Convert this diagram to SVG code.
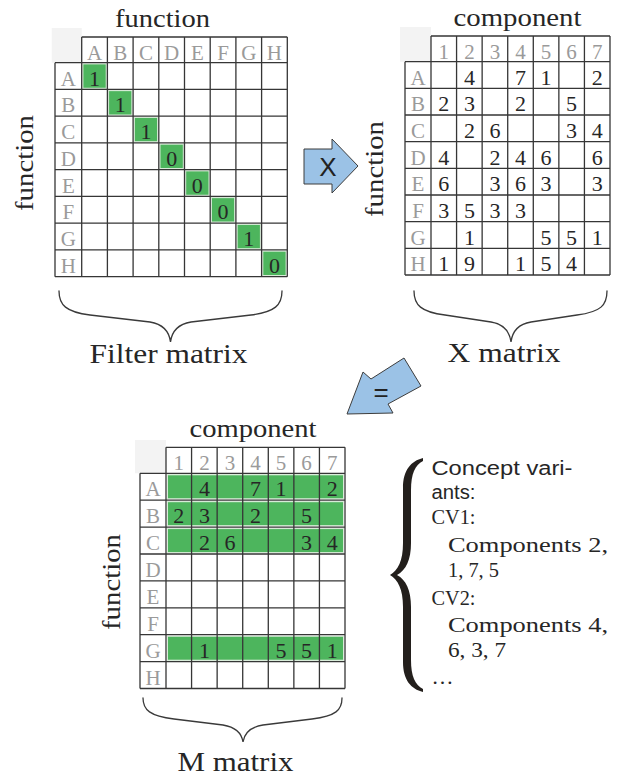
<svg xmlns="http://www.w3.org/2000/svg" width="618" height="777" viewBox="0 0 618 777">
<style>
.bg{fill:#ffffff}
.corner{fill:#f3f3f3}
.g{fill:none;stroke:#363636;stroke-width:1.3}
.grn{fill:#4db55d;stroke:#d9ecd9;stroke-width:1}
.hd{font-family:"Liberation Serif",serif;font-size:21px;fill:#9a9a9a;text-anchor:middle}
.num{font-family:"Liberation Serif",serif;font-size:22px;fill:#262626;text-anchor:middle}
.title{font-family:"Liberation Serif",serif;font-size:26px;fill:#262626;text-anchor:middle}
.lbl{font-family:"Liberation Serif",serif;font-size:27px;fill:#262626;text-anchor:middle}
.brace{fill:none;stroke:#3a3a3a;stroke-width:1.3;stroke-linecap:round}
.arrow{fill:#9bc2e6;stroke:#3d3d3d;stroke-width:1}
.asym{font-family:"Liberation Sans",Arial,sans-serif;font-size:26px;fill:#222;text-anchor:middle}
.sans{font-family:"Liberation Sans",Arial,sans-serif;font-size:20px;fill:#262626}
.ser{font-family:"Liberation Serif",serif;font-size:22px;fill:#262626}
</style>
<rect class="bg" x="0" y="0" width="618" height="777"/>

<g id="filter-matrix">
<text class="title" x="162.5" y="27" textLength="95" lengthAdjust="spacingAndGlyphs">function</text>
<text class="title" transform="translate(33,163) rotate(-90)" textLength="96" lengthAdjust="spacingAndGlyphs">function</text>
<rect class="corner" x="51.7" y="28" width="30" height="34.7"/>
<rect class="grn" x="82.9" y="63.9" width="23.3" height="24.35"/>
<rect class="grn" x="108.6" y="90.65" width="23.3" height="24.35"/>
<rect class="grn" x="134.3" y="117.4" width="23.3" height="24.35"/>
<rect class="grn" x="160" y="144.15" width="23.3" height="24.35"/>
<rect class="grn" x="185.7" y="170.9" width="23.3" height="24.35"/>
<rect class="grn" x="211.4" y="197.65" width="23.3" height="24.35"/>
<rect class="grn" x="237.1" y="224.4" width="23.3" height="24.35"/>
<rect class="grn" x="262.8" y="251.15" width="23.3" height="24.35"/>
<path class="g" d="M81.7 37H287.3M55 62.7H287.3M55 89.45H287.3M55 116.2H287.3M55 142.95H287.3M55 169.7H287.3M55 196.45H287.3M55 223.2H287.3M55 249.95H287.3M55 276.7H287.3M55 62.7V276.7M81.7 37V276.7M107.4 37V276.7M133.1 37V276.7M158.8 37V276.7M184.5 37V276.7M210.2 37V276.7M235.9 37V276.7M261.6 37V276.7M287.3 37V276.7"/>
<g class="hd">
<text x="94.55" y="60">A</text><text x="120.25" y="60">B</text><text x="145.95" y="60">C</text><text x="171.65" y="60">D</text><text x="197.35" y="60">E</text><text x="223.05" y="60">F</text><text x="248.75" y="60">G</text><text x="274.45" y="60">H</text>
<text x="68.35" y="85.7">A</text><text x="68.35" y="112.45">B</text><text x="68.35" y="139.2">C</text><text x="68.35" y="165.95">D</text><text x="68.35" y="192.7">E</text><text x="68.35" y="219.45">F</text><text x="68.35" y="246.2">G</text><text x="68.35" y="272.95">H</text>
</g>
<g class="num">
<text x="94.55" y="85.7">1</text><text x="120.25" y="112.45">1</text><text x="145.95" y="139.2">1</text><text x="171.65" y="165.95">0</text><text x="197.35" y="192.7">0</text><text x="223.05" y="219.45">0</text><text x="248.75" y="246.2">1</text><text x="274.45" y="272.95">0</text>
</g>
<path class="brace" d="M59,291 C59,305 66,312 90,315 L150,322 C162,324 169,330 170.5,342 C172,330 179,324 191,322 L251,315 C275,312 282,305 282,291"/>
<text class="lbl" x="168.5" y="363" textLength="158" lengthAdjust="spacingAndGlyphs">Filter matrix</text>
</g>

<g id="x-matrix">
<text class="title" x="517.5" y="26" textLength="128" lengthAdjust="spacingAndGlyphs">component</text>
<text class="title" transform="translate(383,169) rotate(-90)" textLength="96" lengthAdjust="spacingAndGlyphs">function</text>
<rect class="corner" x="400" y="27" width="31" height="34.7"/>
<path class="g" d="M431 36H610M405 61.7H610M405 88.36H610M405 115.02H610M405 141.68H610M405 168.34H610M405 195H610M405 221.66H610M405 248.32H610M405 274.98H610M405 61.7V274.98M431 36V274.98M456.57 36V274.98M482.14 36V274.98M507.71 36V274.98M533.29 36V274.98M558.86 36V274.98M584.43 36V274.98M610 36V274.98"/>
<g class="hd">
<text x="443.8" y="59">1</text><text x="469.4" y="59">2</text><text x="494.9" y="59">3</text><text x="520.5" y="59">4</text><text x="546.1" y="59">5</text><text x="571.6" y="59">6</text><text x="597.2" y="59">7</text>
<text x="418" y="84.7">A</text><text x="418" y="111.36">B</text><text x="418" y="138.02">C</text><text x="418" y="164.68">D</text><text x="418" y="191.34">E</text><text x="418" y="218">F</text><text x="418" y="244.66">G</text><text x="418" y="271.32">H</text>
</g>
<g class="num">
<text x="469.4" y="84.7">4</text><text x="520.5" y="84.7">7</text><text x="546.1" y="84.7">1</text><text x="597.2" y="84.7">2</text>
<text x="443.8" y="111.36">2</text><text x="469.4" y="111.36">3</text><text x="520.5" y="111.36">2</text><text x="571.6" y="111.36">5</text>
<text x="469.4" y="138.02">2</text><text x="494.9" y="138.02">6</text><text x="571.6" y="138.02">3</text><text x="597.2" y="138.02">4</text>
<text x="443.8" y="164.68">4</text><text x="494.9" y="164.68">2</text><text x="520.5" y="164.68">4</text><text x="546.1" y="164.68">6</text><text x="597.2" y="164.68">6</text>
<text x="443.8" y="191.34">6</text><text x="494.9" y="191.34">3</text><text x="520.5" y="191.34">6</text><text x="546.1" y="191.34">3</text><text x="597.2" y="191.34">3</text>
<text x="443.8" y="218">3</text><text x="469.4" y="218">5</text><text x="494.9" y="218">3</text><text x="520.5" y="218">3</text>
<text x="469.4" y="244.66">1</text><text x="546.1" y="244.66">5</text><text x="571.6" y="244.66">5</text><text x="597.2" y="244.66">1</text>
<text x="443.8" y="271.32">1</text><text x="469.4" y="271.32">9</text><text x="520.5" y="271.32">1</text><text x="546.1" y="271.32">5</text><text x="571.6" y="271.32">4</text>
</g>
<path class="brace" d="M414,291 C414,305 421,312 445,315 L491,322 C503,324 509.5,330 511,342 C512.5,330 519,324 531,322 L577,315 C601,312 607,305 607,291"/>
<text class="lbl" x="504" y="362" textLength="113" lengthAdjust="spacingAndGlyphs">X matrix</text>
</g>

<g id="m-matrix">
<text class="title" x="253" y="437" textLength="127" lengthAdjust="spacingAndGlyphs">component</text>
<text class="title" transform="translate(120,582) rotate(-90)" textLength="96" lengthAdjust="spacingAndGlyphs">function</text>
<rect class="corner" x="135" y="440" width="31" height="33.3"/>
<rect class="grn" x="167.5" y="474.8" width="176" height="24"/>
<rect class="grn" x="167.5" y="501.7" width="176" height="24"/>
<rect class="grn" x="167.5" y="528.6" width="176" height="24"/>
<rect class="grn" x="167.5" y="636.2" width="176" height="24"/>
<path class="g" d="M166 447.3H345M140 473.3H345M140 500.2H345M140 527.1H345M140 554H345M140 580.9H345M140 607.8H345M140 634.7H345M140 661.6H345M140 688.5H345M140 473.3V688.5M166 447.3V688.5M191.57 447.3V688.5M217.14 447.3V688.5M242.71 447.3V688.5M268.29 447.3V688.5M293.86 447.3V688.5M319.43 447.3V688.5M345 447.3V688.5"/>
<g class="hd">
<text x="178.8" y="470.3">1</text><text x="204.4" y="470.3">2</text><text x="229.9" y="470.3">3</text><text x="255.5" y="470.3">4</text><text x="281.1" y="470.3">5</text><text x="306.6" y="470.3">6</text><text x="332.2" y="470.3">7</text>
<text x="153" y="496.3">A</text><text x="153" y="523.2">B</text><text x="153" y="550.1">C</text><text x="153" y="577">D</text><text x="153" y="603.9">E</text><text x="153" y="630.8">F</text><text x="153" y="657.7">G</text><text x="153" y="684.6">H</text>
</g>
<g class="num">
<text x="204.4" y="496.3">4</text><text x="255.5" y="496.3">7</text><text x="281.1" y="496.3">1</text><text x="332.2" y="496.3">2</text>
<text x="178.8" y="523.2">2</text><text x="204.4" y="523.2">3</text><text x="255.5" y="523.2">2</text><text x="306.6" y="523.2">5</text>
<text x="204.4" y="550.1">2</text><text x="229.9" y="550.1">6</text><text x="306.6" y="550.1">3</text><text x="332.2" y="550.1">4</text>
<text x="204.4" y="657.7">1</text><text x="281.1" y="657.7">5</text><text x="306.6" y="657.7">5</text><text x="332.2" y="657.7">1</text>
</g>
<path class="brace" d="M143,698 C143,710 150,716 174,719 L223,725 C235,727 241.5,732 243,742 C244.5,732 251,727 263,725 L312,719 C336,716 342,710 342,698"/>
<text class="lbl" x="235.5" y="771" textLength="116" lengthAdjust="spacingAndGlyphs">M matrix</text>
</g>

<g id="concept-variants">
<path fill="#231f1c" d="M423,458 C411,461 403,470 403,488 L403,543 C403,561 398,570 390,575 C398,580 403,589 403,607 L403,662 C403,680 411,689 423,692 L423,689 C415,685 411,676 411,660 L411,607 C411,590 406,580 397,575 C406,570 411,560 411,543 L411,490 C411,474 415,465 423,461 Z"/>
<text class="sans" x="431.5" y="475" textLength="141" lengthAdjust="spacingAndGlyphs">Concept vari-</text>
<text class="sans" x="431.5" y="499" textLength="44" lengthAdjust="spacingAndGlyphs">ants:</text>
<text class="ser" x="431.5" y="524" textLength="44" lengthAdjust="spacingAndGlyphs">CV1:</text>
<text class="ser" x="448" y="552" textLength="160" lengthAdjust="spacingAndGlyphs">Components 2,</text>
<text class="ser" x="448" y="577" textLength="51" lengthAdjust="spacingAndGlyphs">1, 7, 5</text>
<text class="ser" x="431.5" y="605" textLength="44" lengthAdjust="spacingAndGlyphs">CV2:</text>
<text class="ser" x="448" y="632" textLength="160" lengthAdjust="spacingAndGlyphs">Components 4,</text>
<text class="ser" x="448" y="657" textLength="58" lengthAdjust="spacingAndGlyphs">6, 3, 7</text>
<text class="ser" x="431.5" y="684">…</text>
</g>

<g id="connectors">
<polygon class="arrow" points="304,149 332,149 332,139 358,166 332,193 332,184 304,184"/>
<text class="asym" x="328" y="176">X</text>
<polygon class="arrow" points="347,414 363,372 371,379 404,358 421,386 388,404 393,413"/>
<text class="asym" x="381" y="401">=</text>
</g>
</svg>
